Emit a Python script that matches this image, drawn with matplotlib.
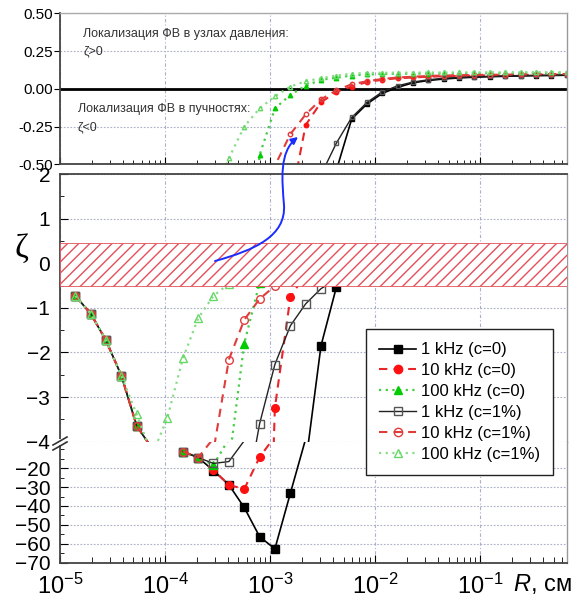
import numpy as np
import matplotlib
matplotlib.use('Agg')
import matplotlib.pyplot as plt
from matplotlib.ticker import MultipleLocator, LogLocator, NullFormatter
from matplotlib.path import Path
from matplotlib.patches import FancyArrowPatch, Rectangle
from matplotlib.lines import Line2D

plt.rcParams['font.family'] = ['Liberation Sans', 'DejaVu Sans']
plt.rcParams['mathtext.fontset'] = 'custom'
plt.rcParams['mathtext.rm'] = 'Liberation Sans'
plt.rcParams['mathtext.it'] = 'Liberation Sans:italic'
plt.rcParams['hatch.linewidth'] = 1.0

nan = np.nan

# radius grid, cm
R = [1.40e-05, 1.96e-05, 2.74e-05, 3.84e-05, 5.38e-05, 7.53e-05, 1.05e-04,
     1.48e-04, 2.07e-04, 2.89e-04, 4.05e-04, 5.67e-04, 7.94e-04, 1.11e-03,
     1.56e-03, 2.18e-03, 3.05e-03, 4.27e-03, 5.98e-03, 8.37e-03, 1.17e-02,
     1.64e-02, 2.30e-02, 3.21e-02, 4.50e-02, 6.30e-02, 8.82e-02, 0.123,
     0.173, 0.242, 0.339, 0.474, 0.664]

# zeta values
z_1k_c0 = [-0.73, -1.13, -1.73, -2.52, -3.65, -4.15, nan, -11.2, -14.4, -21.3, -28.8,
           -40.8, -56.2, -62.7, -33.2, -4.5, -1.85, -0.54, -0.20, -0.10, -0.03, 0.01,
           0.04, 0.055, 0.065, 0.072, 0.077, 0.08, 0.083, 0.085, 0.087, 0.088, 0.09]
z_10k_c0 = [-0.73, -1.13, -1.73, -2.52, -3.65, -4.15, nan, -11.2, -14.4, -21.0, -28.8,
            -31.1, -14.2, -3.24, -0.76, -0.24, -0.09, -0.02, 0.015, 0.045, 0.06, 0.07,
            0.075, 0.08, 0.083, 0.085, 0.087, 0.089, 0.09, 0.092, 0.093, 0.094, 0.095]
z_100k_c0 = [-0.73, -1.13, -1.73, -2.52, -3.65, -4.15, nan, -11.2, -14.4, -18.3, -4.5,
             -1.80, -0.44, -0.13, -0.04, 0.02, 0.06, 0.073, 0.088, 0.095, 0.098, 0.1,
             0.1, 0.101, 0.101, 0.102, 0.102, 0.103, 0.103, 0.104, 0.104, 0.105, 0.105]
z_1k_c1 = [-0.73, -1.13, -1.73, -2.52, -3.65, -4.15, nan, -11.2, -14.4, -17.5, -16.5,
           -5.5, -3.6, -2.27, -1.40, -0.91, -0.57, -0.36, -0.19, -0.09, -0.02, 0.02,
           0.045, 0.06, 0.07, 0.075, 0.08, 0.083, 0.086, 0.088, 0.089, 0.09, 0.092]
z_10k_c1 = [-0.73, -1.13, -1.73, -2.52, -3.65, -4.15, nan, -11.2, -14.4, -4.2, -2.16,
            -1.27, -0.80, -0.51, -0.30, -0.17, -0.07, -0.01, 0.03, 0.05, 0.065, 0.075,
            0.08, 0.085, 0.088, 0.09, 0.092, 0.093, 0.094, 0.095, 0.096, 0.097, 0.098]
z_100k_c1 = [-0.73, -1.13, -1.73, -2.52, -3.39, -4.3, -3.47, -2.13, -1.23, -0.73, -0.46,
             -0.25, -0.13, -0.05, 0.015, 0.05, 0.07, 0.088, 0.1, 0.105, 0.106, 0.107,
             0.107, 0.108, 0.108, 0.108, 0.109, 0.109, 0.109, 0.11, 0.11, 0.11, 0.11]

labels = ['1 kHz (c=0)', '10 kHz (c=0)', '100 kHz (c=0)',
          '1 kHz (c=1%)', '10 kHz (c=1%)', '100 kHz (c=1%)']
series = [z_1k_c0, z_10k_c0, z_100k_c0, z_1k_c1, z_10k_c1, z_100k_c1]
line_st = [
    dict(color='black', ls='-', lw=1.2),
    dict(color='#e8262a', ls=(0, (4, 3)), lw=1.5),
    dict(color='#44cc44', ls=(0, (1, 2)), lw=1.6),
    dict(color='#222222', ls='-', lw=1.0),
    dict(color='#e03c3c', ls=(0, (4, 3)), lw=1.5),
    dict(color='#88dd88', ls=(0, (1, 2)), lw=1.6),
]
mark_st = [
    dict(marker='s', mfc='black', mec='black'),
    dict(marker='o', mfc='#ff1010', mec='#ff1010'),
    dict(marker='^', mfc='#00cc00', mec='#00cc00'),
    dict(marker='s', mfc='none', mec='#555555'),
    dict(marker='o', mfc='none', mec='#e03c3c'),
    dict(marker='^', mfc='none', mec='#66d866'),
]

W, H = 584, 605
fig = plt.figure(figsize=(W / 100, H / 100), dpi=100)


def fx(px):
    return px / W


def fy(py):
    return 1 - py / H


left, right = 60, 567
wid = (right - left) / W
ax_top = fig.add_axes([fx(left), fy(164.3), wid, (164.3 - 13.3) / H])
ax_mid = fig.add_axes([fx(left), fy(441.7), wid, (441.7 - 174) / H])
ax_bot = fig.add_axes([fx(left), fy(562.7), wid, (562.7 - 441.7) / H])

panels = [(ax_top, (-0.5, 0.5), 3.2), (ax_mid, (-4, 2), 5.5), (ax_bot, (-70, -6), 5.5)]
grid_c = '#aab0c8'
for ax, (lo, hi), ms in panels:
    for z, lst, mst in zip(series, line_st, mark_st):
        ax.plot(R, z, **lst)
        # markers only for points that fall inside this panel's range
        zm = [v if lo <= v <= hi else nan for v in z]
        ax.plot(R, zm, ls='none', ms=ms, mew=1.0, **mst)
    ax.set_xscale('log')
    ax.set_xlim(1e-5, 0.67)
    ax.set_ylim(lo, hi)
    ax.xaxis.set_major_locator(LogLocator(base=10, numticks=10))
    ax.xaxis.set_minor_locator(LogLocator(base=10, subs=np.arange(2, 10), numticks=10))
    ax.grid(True, which='major', axis='x', ls=(0, (3, 2, 1, 2)), color=grid_c, lw=0.8)
    ax.grid(True, which='major', axis='y', ls=(0, (1.5, 1.5)), color=grid_c, lw=0.8)
    ax.set_axisbelow(True)
    for s in ['left', 'bottom']:
        ax.spines[s].set_color('#444444')
        ax.spines[s].set_linewidth(1.3)
    for s in ['top', 'right']:
        ax.spines[s].set_color('#999999')
        ax.spines[s].set_linewidth(1.0)

# top panel
ax_top.set_yticks([0.5, 0.25, 0.0, -0.25, -0.5])
ax_top.set_yticklabels(['0.50', '0.25', '0.00', '-0.25', '-0.50'])
ax_top.axhline(0, color='black', lw=2.0, zorder=1.5)
ax_top.tick_params(axis='y', direction='out', length=4, labelsize=11, pad=1)
ax_top.tick_params(axis='x', which='both', direction='in', labelbottom=False)
ax_top.tick_params(axis='x', which='minor', length=3)
ax_top.tick_params(axis='x', which='major', length=5)
ax_top.spines['top'].set_color('#aaaaaa')

txt_c = '#333333'
fig.text(fx(83), fy(33.5), 'Локализация ФВ в узлах давления:', fontsize=9,
         color=txt_c, va='center')
fig.text(fx(83), fy(51), 'ζ>0', fontsize=9, color=txt_c, va='center')
fig.text(fx(78), fy(109), 'Локализация ФВ в пучностях:', fontsize=9,
         color=txt_c, va='center')
fig.text(fx(78), fy(127), 'ζ<0', fontsize=9, color=txt_c, va='center')

# middle panel
ax_mid.yaxis.set_major_locator(MultipleLocator(1))
ax_mid.yaxis.set_minor_locator(MultipleLocator(0.5))
ax_mid.tick_params(axis='y', which='both', direction='in', labelsize=15, pad=7)
ax_mid.tick_params(axis='y', which='major', length=6)
ax_mid.tick_params(axis='y', which='minor', length=3)
ax_mid.tick_params(axis='x', which='both', length=0, labelbottom=False)
ax_mid.spines['bottom'].set_visible(False)
ax_mid.spines['top'].set_color('#444444')
ax_mid.spines['top'].set_linewidth(1.3)
ax_mid.axhspan(-0.5, 0.45, facecolor='white', edgecolor='#e4505a', hatch='///',
               lw=0.6, zorder=4)

# bottom panel
ax_bot.set_yticks([-20, -30, -40, -50, -60, -70])
ax_bot.yaxis.set_minor_locator(MultipleLocator(5))
ax_bot.tick_params(axis='y', which='both', direction='in', labelsize=15, pad=7)
ax_bot.tick_params(axis='y', which='major', length=6)
ax_bot.tick_params(axis='y', which='minor', length=3)
ax_bot.spines['top'].set_visible(False)
ax_bot.set_xticks([1e-5, 1e-4, 1e-3, 1e-2, 1e-1])
ax_bot.set_xticklabels(['$10^{-5}$', '$10^{-4}$', '$10^{-3}$', '$10^{-2}$', '$10^{-1}$'])
ax_bot.xaxis.set_minor_formatter(NullFormatter())
ax_bot.tick_params(axis='x', which='both', direction='in', labelsize=17, pad=8)
ax_bot.tick_params(axis='x', which='major', length=6)
ax_bot.tick_params(axis='x', which='minor', length=4)

# axis break on the left spine
fig.add_artist(Rectangle((fx(56), fy(445)), 8 / W, 6 / H, transform=fig.transFigure,
                         facecolor='white', edgecolor='none', zorder=3))
for dy in (0, 5):
    fig.add_artist(Line2D([fx(53), fx(67)], [fy(445 + dy), fy(437 + dy)],
                          transform=fig.transFigure, color='#333333', lw=1.2, zorder=4))

# axis labels
fig.text(fx(21), fy(249), 'ζ', fontsize=24, family='Liberation Serif',
         ha='center', va='center')
fig.text(fx(513), fy(584), '$R$, см', fontsize=17, ha='left', va='center')

# blue arrow from the band to the top panel
verts_px = [(215, 261), (255, 250), (286, 236), (284, 205),
            (282, 180), (279, 152), (298, 137)]
verts = [(fx(x), fy(y)) for x, y in verts_px]
codes = [Path.MOVETO] + [Path.CURVE4] * 6
arrow = FancyArrowPatch(path=Path(verts, codes), arrowstyle='-|>', mutation_scale=10,
                        color='#1a2cff', lw=1.4, transform=fig.transFigure, zorder=6)
fig.add_artist(arrow)

# legend
handles = [Line2D([], [], ms=6, mew=1.0, **lst, **mst)
           for lst, mst in zip(line_st, mark_st)]
leg = fig.legend(handles, labels, loc='upper left',
                 bbox_to_anchor=(fx(366), fy(329)), fontsize=12, frameon=True,
                 fancybox=False, edgecolor='#222222', framealpha=1,
                 handlelength=2.2, labelspacing=0.35, borderpad=0.8,
                 handletextpad=0.3, borderaxespad=0)
leg.get_frame().set_linewidth(1.0)

fig.savefig('out.png', dpi=100)
